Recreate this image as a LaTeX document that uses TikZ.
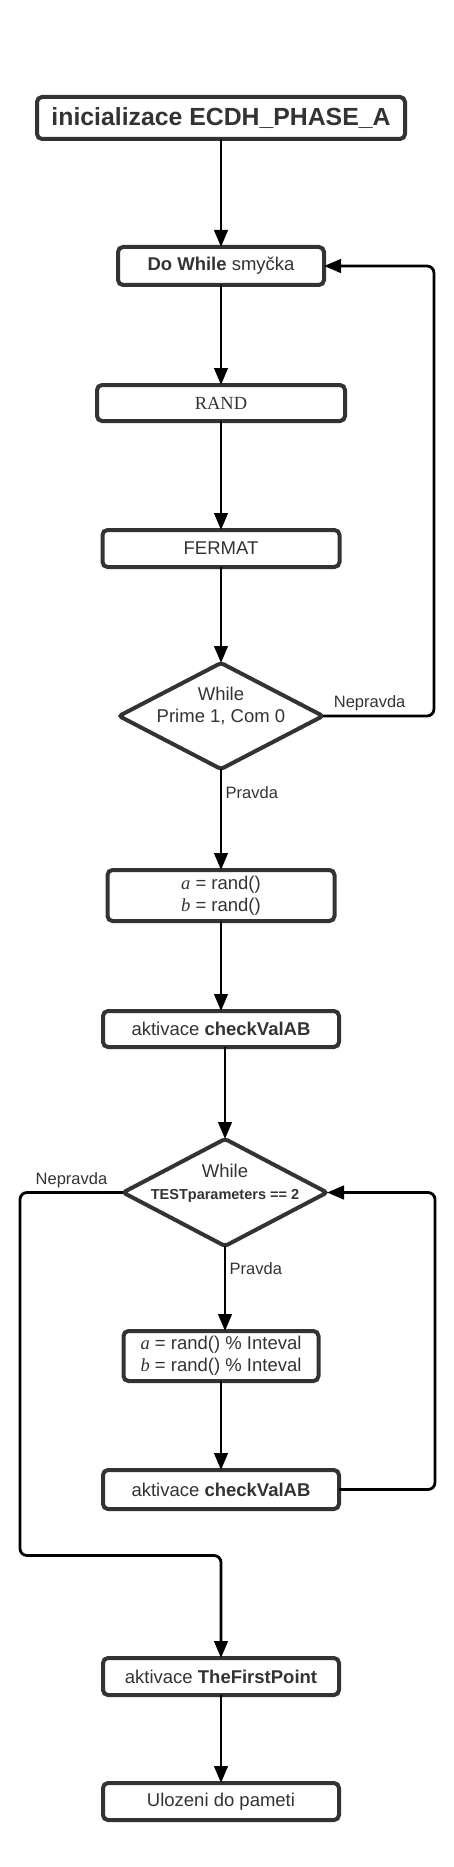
\documentclass[tikz,border=0pt]{standalone}
\usepackage{fontspec}
\setmainfont{Liberation Serif}
\setsansfont{Liberation Sans}
\usepackage{tikz}
\usetikzlibrary{shapes.geometric}
\usetikzlibrary{arrows.meta}
\usetikzlibrary{positioning}
\usepackage{xcolor}
\definecolor{tikz-block}{HTML}{333333}
\tikzset{node distance=90pt, every text node part/.style={align=center, font={\sffamily\fontsize{18.5}{22}\selectfont}}}
\tikzstyle{blok} = [draw=tikz-block, fill=white, text=tikz-block, line width=4pt, rounded corners=5pt, inner sep=0pt, outer sep=0pt]
\tikzstyle{podminka} = [diamond, draw=tikz-block, fill=white, line width=4pt, rounded corners=3pt, inner sep=0pt, outer sep=0pt, minimum width=204pt, minimum height=106pt]
\tikzstyle{sipka} = [draw, line width=2.8pt, rounded corners=7pt, -{Triangle[length=17pt,width=13.5pt]}, every text node part/.append style={font={\sffamily\fontsize{16.5}{20}\selectfont}}]

\begin{document}
\begin{tikzpicture}[x=1pt, y=-1pt]
      \useasboundingbox (0,0) rectangle (453,1867);
      \node[blok, minimum width=368pt, minimum height=42pt] (init) at (221,118) {\bfseries\fontsize{24.8}{28}\selectfont inicializace ECDH\_PHASE\_A};
      \node[blok, minimum width=206pt, minimum height=38pt, below=108pt of init] (dowhile) {\textbf{Do While} smyčka};
      \node[blok, minimum width=248pt, minimum height=36pt, below=100pt of dowhile] (rand) {\rmfamily RAND};
      \node[blok, minimum width=237pt, minimum height=37pt, below=109pt of rand] (fermat) {FERMAT};
      \node[podminka, below=96pt of fermat] (dec1) {};
      \node[text=tikz-block] (dec1t) at ([yshift=10pt]dec1.center) {While\\Prime 1, Com 0};
      \node[blok, minimum width=227pt, minimum height=51pt, below=101pt of dec1] (ab) {{\rmfamily\itshape a} = rand()\\{\rmfamily\itshape b} = rand()};
      \node[blok, minimum width=236pt, minimum height=36pt, below=90pt of ab] (check1) {aktivace \textbf{checkValAB}};
      \node[podminka, minimum height=107pt, below=92pt of check1, xshift=4pt] (dec2) {};
      \node[text=tikz-block] (dec2t) at ([yshift=9pt]dec2.center) {While\\{\bfseries\fontsize{14.5}{17}\selectfont TESTparameters == 2}};
      \node[blok, minimum width=195pt, minimum height=50pt, below=85pt of dec2, xshift=-4pt] (abmod) {{\rmfamily\itshape a} = rand() \% Inteval\\{\rmfamily\itshape b} = rand() \% Inteval};
      \node[blok, minimum width=236pt, minimum height=39pt, below=89pt of abmod] (check2) {aktivace \textbf{checkValAB}};
      \node[blok, minimum width=236pt, minimum height=37pt, below=149pt of check2] (first) {aktivace \textbf{TheFirstPoint}};
      \node[blok, minimum width=236pt, minimum height=37pt, below=88pt of first] (store) {Ulozeni do pameti};
      % hlavni tok
      \draw[sipka] (init) -- (dowhile);
      \draw[sipka] (dowhile) -- (rand);
      \draw[sipka] (rand) -- (fermat);
      \draw[sipka] (fermat) -- (dec1);
      \draw[sipka, text=tikz-block] (dec1.east) -- node[above, pos=0.42]{Nepravda} ++(111,0) |- (dowhile.east);
      \draw[sipka, text=tikz-block] (dec1) -- node[right, pos=0.23]{Pravda} (ab);
      \draw[sipka] (ab) -- (check1);
      \draw[sipka] (check1.south -| dec2.north) -- (dec2.north);
      % druha smycka
      \draw[sipka, text=tikz-block] (dec2.south) -- node[right, pos=0.26]{Pravda} (dec2.south |- abmod.north);
      \draw[sipka] (abmod) -- (check2);
      \draw[sipka] (check2.east) -- ++(96,0) |- (dec2.east);
      \draw[sipka, text=tikz-block] (dec2.west) -- node[above]{Nepravda} ++(-103,0) -- ++(0,363) -| (first.north);
      \draw[sipka] (first) -- (store);
    \end{tikzpicture}
\end{document}
